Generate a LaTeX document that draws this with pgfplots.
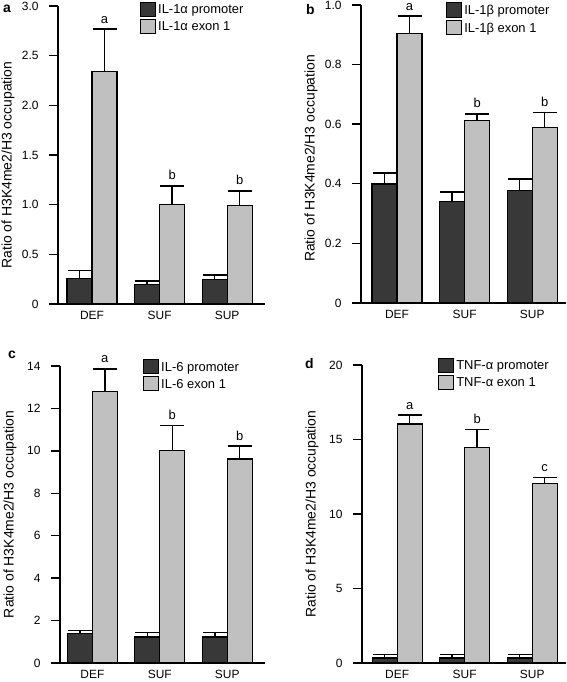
\documentclass[border=0pt]{standalone}
\usepackage{fontspec}
\setmainfont{Liberation Sans}
\usepackage{pgfplots}
\pgfplotsset{compat=1.18}
\definecolor{darkbar}{RGB}{56,56,56}
\definecolor{lightbar}{RGB}{192,192,192}
\tikzset{lett/.style={anchor=south, inner sep=0pt, yshift=5.5bp, font=\fontsize{13}{15}\selectfont},
  plab/.style={anchor=base west, inner sep=0pt, font=\bfseries\fontsize{14}{16}\selectfont}}
\pgfplotsset{
  panel/.style={
    scale only axis,
    anchor=south west,
    clip=false,
    axis x line*=bottom,
    axis y line*=left,
    axis line style={line width=1.6bp},
    ybar, bar width=0.37,
    enlarge x limits=false, enlarge y limits=false,
    ymin=0,
    xtick={0,1,2}, xticklabels={DEF,SUF,SUP},
    x tick style={draw=none},
    xticklabel style={yshift=5bp},
    y tick style={line width=1.4bp, black},
    major tick length=9bp,
    tick align=outside,
    yticklabel style={xshift=-7bp},
    /pgf/number format/assume math mode=true,
    tick label style={font=\fontsize{12}{14}\selectfont},
    every axis y label/.style={at={(rel axis cs:0,0.5)}, xshift=-50bp, rotate=90, anchor=center,
      font=\fontsize{14}{16}\selectfont},
    ylabel={Ratio of H3K4me2/H3 occupation},
    legend style={draw=none, fill=none, inner sep=0pt, anchor=north west, row sep=0pt,
      font=\fontsize{13}{15}\selectfont, nodes={inner ysep=3.2bp}},
    legend cell align=left,
    error bars/y dir=plus, error bars/y explicit,
    error bars/error bar style={line width=1.5bp, black},
    error bars/error mark options={rotate=90, mark size=12bp, line width=1.5bp, black},
  },
  promo/.style={fill=darkbar, draw=black, line width=1.2bp, bar shift=-0.185,
    legend image code/.code={\draw[fill=darkbar, draw=black, line width=1bp] (0bp,-6.5bp) rectangle (15bp,8bp);}},
  exon/.style={fill=lightbar, draw=black, line width=1.2bp, bar shift=0.185,
    legend image code/.code={\draw[fill=lightbar, draw=black, line width=1bp] (0bp,-6.5bp) rectangle (15bp,8bp);}},
}
\begin{document}
\begin{tikzpicture}
\useasboundingbox (0,0) rectangle (567bp,682bp);
% panel labels
\node[plab] at (3bp,669.5bp) {a};
\node[plab] at (306bp,667bp) {b};
\node[plab] at (8bp,323.7bp) {c};
\node[plab] at (305bp,313.7bp) {d};

% ---------- a ----------
\begin{axis}[panel, at={(58bp,378bp)}, width=207bp, height=298bp,
  xmin=-0.504, xmax=2.56, ymax=3.0,
  ytick={0,0.5,1,1.5,2,2.5,3}, yticklabels={0,0.5,1.0,1.5,2.0,2.5,3.0},
  every axis y label/.append style={at={(rel axis cs:0,0.466)}},
  legend style={at={(rel axis cs:0.396,1.015)}}]
\addplot[promo] coordinates {(0,0.26) +- (0,0.075) (1,0.20) +- (0,0.03) (2,0.25) +- (0,0.04)};
\addlegendentry{IL-1α promoter}
\addplot[exon] coordinates {(0,2.34) +- (0,0.43) (1,1.00) +- (0,0.19) (2,0.99) +- (0,0.15)};
\addlegendentry{IL-1α exon 1}
\node[lett] at (axis cs:0.185,2.77) {a};
\node[lett] at (axis cs:1.185,1.19) {b};
\node[lett] at (axis cs:2.185,1.14) {b};
\end{axis}

% ---------- b ----------
\begin{axis}[panel, at={(361bp,379bp)}, width=205bp, height=298bp,
  xmin=-0.533, xmax=2.5, ymax=1.0,
  ytick={0,0.2,0.4,0.6,0.8,1.0}, yticklabels={0,0.2,0.4,0.6,0.8,1.0},
  every axis y label/.append style={at={(rel axis cs:0,0.485)}},
  legend style={at={(rel axis cs:0.415,1.01)}}]
\addplot[promo] coordinates {(0,0.399) +- (0,0.038) (1,0.341) +- (0,0.031) (2,0.377) +- (0,0.039)};
\addlegendentry{IL-1β promoter}
\addplot[exon] coordinates {(0,0.905) +- (0,0.058) (1,0.613) +- (0,0.022) (2,0.589) +- (0,0.05)};
\addlegendentry{IL-1β exon 1}
\node[lett] at (axis cs:0.185,0.963) {a};
\node[lett] at (axis cs:1.185,0.635) {b};
\node[lett] at (axis cs:2.185,0.639) {b};
\end{axis}

% ---------- c ----------
\begin{axis}[panel, at={(60bp,19bp)}, width=205bp, height=297bp,
  xmin=-0.48, xmax=2.56, ymax=14,
  ytick={0,2,4,6,8,10,12,14},
  legend style={at={(rel axis cs:0.405,1.025)}}]
\addplot[promo] coordinates {(0,1.39) +- (0,0.15) (1,1.23) +- (0,0.2) (2,1.23) +- (0,0.2)};
\addlegendentry{IL-6 promoter}
\addplot[exon] coordinates {(0,12.78) +- (0,1.09) (1,10.03) +- (0,1.17) (2,9.62) +- (0,0.6)};
\addlegendentry{IL-6 exon 1}
\node[lett] at (axis cs:0.185,13.87) {a};
\node[lett] at (axis cs:1.185,11.2) {b};
\node[lett] at (axis cs:2.185,10.22) {b};
\end{axis}

% ---------- d ----------
\begin{axis}[panel, at={(362bp,19bp)}, width=204bp, height=298bp,
  xmin=-0.52, xmax=2.5, ymax=20,
  ytick={0,5,10,15,20},
  legend style={at={(rel axis cs:0.373,1.025)}}]
\addplot[promo] coordinates {(0,0.34) +- (0,0.22) (1,0.34) +- (0,0.22) (2,0.34) +- (0,0.22)};
\addlegendentry{TNF-α promoter}
\addplot[exon] coordinates {(0,16.04) +- (0,0.6) (1,14.47) +- (0,1.21) (2,12.05) +- (0,0.4)};
\addlegendentry{TNF-α exon 1}
\node[lett] at (axis cs:0.185,16.64) {a};
\node[lett] at (axis cs:1.185,15.68) {b};
\node[lett] at (axis cs:2.185,12.45) {c};
\end{axis}
\end{tikzpicture}
\end{document}
